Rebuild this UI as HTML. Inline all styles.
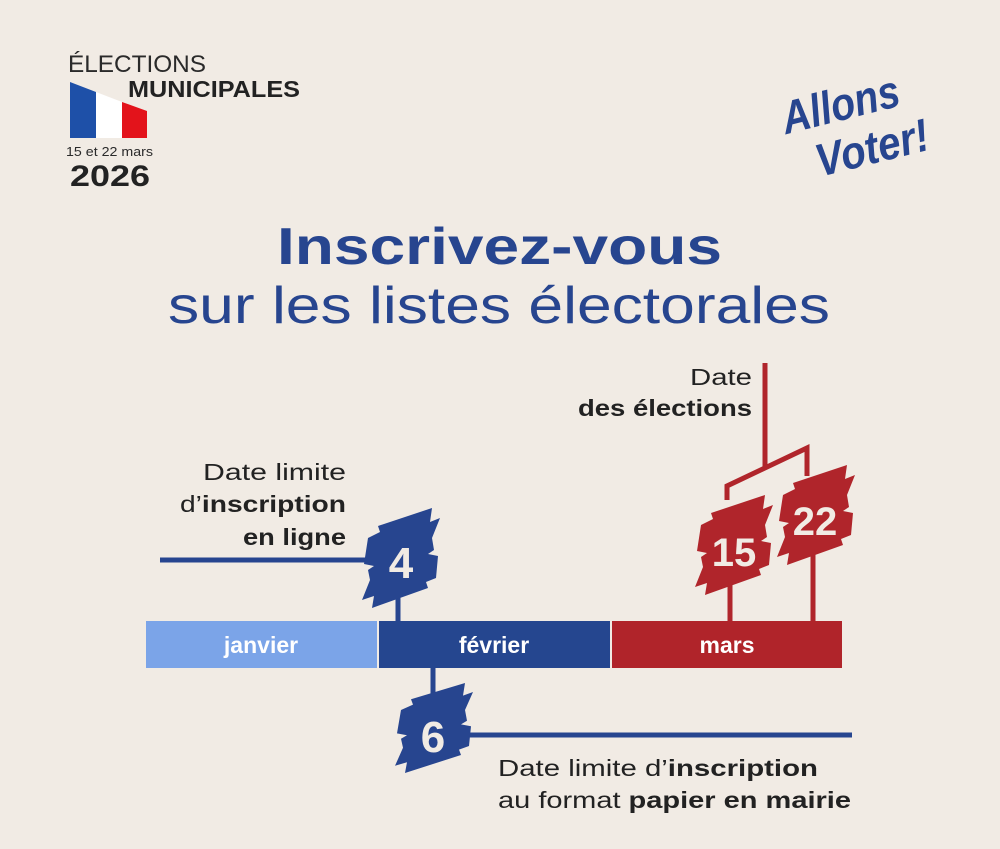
<!DOCTYPE html>
<html><head><meta charset="utf-8"><style>
html,body{margin:0;padding:0;background:#f1ebe4;}
svg{display:block;}
text{font-family:"Liberation Sans","DejaVu Sans",sans-serif;}
</style></head><body>
<svg width="1000" height="849" viewBox="0 0 1000 849" xmlns="http://www.w3.org/2000/svg">
<rect width="1000" height="849" fill="#f1ebe4"/>
<defs>
<polygon id="bd" points="8,30 20,24 18,18 72,0 70,14 80,10 72,30 74,42 68,46 78,48 76,70 66,74 68,80 12,100 14,88 2,92 10,72 8,62 14,58 4,56"/>
</defs>
<!-- header left -->
<text x="68" y="72" font-size="24" fill="#2a2a2a" textLength="138" lengthAdjust="spacingAndGlyphs">ÉLECTIONS</text>
<text x="128" y="97" font-size="23" font-weight="bold" fill="#222" textLength="172" lengthAdjust="spacingAndGlyphs">MUNICIPALES</text>
<polygon points="70,82 96,92 96,138 70,138" fill="#1e50a8"/>
<polygon points="96,92 122,102 122,138 96,138" fill="#fff"/>
<polygon points="122,102 147,111 147,138 122,138" fill="#e3131b"/>
<text x="66" y="156" font-size="13" fill="#2a2a2a" textLength="87" lengthAdjust="spacingAndGlyphs">15 et 22 mars</text>
<text x="70" y="186" font-size="30" font-weight="bold" fill="#222" textLength="80" lengthAdjust="spacingAndGlyphs">2026</text>
<!-- logo -->
<g fill="#27458f" font-family="'DejaVu Serif',serif" font-style="italic" font-weight="bold">
<text x="782" y="118" font-size="46" textLength="120" lengthAdjust="spacingAndGlyphs" transform="rotate(-14 850 110)">Allons</text>
<text x="815" y="164" font-size="46" textLength="115" lengthAdjust="spacingAndGlyphs" transform="rotate(-14 870 150)">Voter!</text>
</g>
<!-- title -->
<text x="277" y="264" font-size="52" font-weight="bold" fill="#27458f" textLength="445" lengthAdjust="spacingAndGlyphs">Inscrivez-vous</text>
<text x="168" y="323" font-size="52" fill="#27458f" textLength="662" lengthAdjust="spacingAndGlyphs">sur les listes électorales</text>
<!-- labels -->
<text x="203" y="480" font-size="23" fill="#222" textLength="143" lengthAdjust="spacingAndGlyphs">Date limite</text>
<text x="180" y="512" font-size="23" fill="#222" textLength="166" lengthAdjust="spacingAndGlyphs">d’<tspan font-weight="bold">inscription</tspan></text>
<text x="243" y="545" font-size="23" font-weight="bold" fill="#222" textLength="103" lengthAdjust="spacingAndGlyphs">en ligne</text>
<text x="690" y="385" font-size="23" fill="#222" textLength="62" lengthAdjust="spacingAndGlyphs">Date</text>
<text x="578" y="416" font-size="23" font-weight="bold" fill="#222" textLength="174" lengthAdjust="spacingAndGlyphs">des élections</text>
<text x="498" y="776" font-size="23" fill="#222" textLength="320" lengthAdjust="spacingAndGlyphs">Date limite d’<tspan font-weight="bold">inscription</tspan></text>
<text x="498" y="808" font-size="23" fill="#222" textLength="353" lengthAdjust="spacingAndGlyphs">au format <tspan font-weight="bold">papier en mairie</tspan></text>
<!-- lines -->
<line x1="160" y1="560" x2="368" y2="560" stroke="#27458f" stroke-width="5"/>
<line x1="398" y1="595" x2="398" y2="622" stroke="#27458f" stroke-width="5"/>
<line x1="433" y1="668" x2="433" y2="695" stroke="#27458f" stroke-width="5"/>
<line x1="465" y1="735" x2="852" y2="735" stroke="#27458f" stroke-width="5"/>
<line x1="765" y1="363" x2="765" y2="467" stroke="#b0252b" stroke-width="5"/>
<polyline points="727,500 727,486 807,448 807,476" fill="none" stroke="#b0252b" stroke-width="5"/>
<line x1="730" y1="580" x2="730" y2="622" stroke="#b0252b" stroke-width="5"/>
<line x1="813" y1="550" x2="813" y2="622" stroke="#b0252b" stroke-width="5"/>
<!-- bar -->
<rect x="146" y="621" width="231" height="47" fill="#7ba4e8"/>
<rect x="379" y="621" width="231" height="47" fill="#25468f"/>
<rect x="612" y="621" width="230" height="47" fill="#b0242a"/>
<g font-size="23" font-weight="bold" fill="#fff" text-anchor="middle">
<text x="261" y="653">janvier</text>
<text x="494" y="653">février</text>
<text x="727" y="653">mars</text>
</g>
<!-- badges -->
<use href="#bd" transform="translate(360,508)" fill="#27458f"/>
<use href="#bd" transform="translate(393,683) scale(1,0.9)" fill="#27458f"/>
<use href="#bd" transform="translate(693,495)" fill="#b0252b"/>
<use href="#bd" transform="translate(775,465)" fill="#b0252b"/>
<g font-weight="bold" fill="#f1ebe4" text-anchor="middle">
<text x="401" y="578" font-size="44">4</text>
<text x="433" y="752" font-size="44">6</text>
<text x="734" y="566" font-size="40">15</text>
<text x="815" y="535" font-size="40">22</text>
</g>
</svg>
</body></html>
